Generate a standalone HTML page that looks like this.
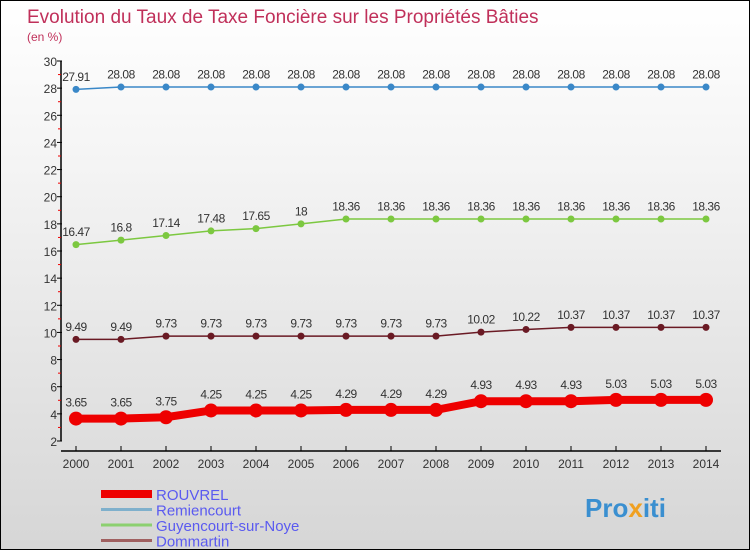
<!DOCTYPE html>
<html><head><meta charset="utf-8"><style>
body{margin:0}
#c{width:748px;height:548px;border:1px solid #000;background:linear-gradient(#fff,#f4f4f4 30%,#d6d6d6);position:relative;overflow:hidden;font-family:"Liberation Sans",sans-serif}
</style></head><body>
<div id="c">
<svg id="s" width="748" height="548" style="position:absolute;left:0;top:0">
<text x="26" y="22" font-size="19" fill="#c0305a">Evolution du Taux de Taxe Foncière sur les Propriétés Bâties</text>
<text x="26" y="40" font-size="12" fill="#c0305a">(en %)</text>
<g id="ax"></g><g id="ser"></g>
<text x="584" y="516" font-size="26" font-weight="bold" fill="#3a8fd0">Pro<tspan fill="#f0a020">x</tspan>iti</text>
</svg>
</div>
<script>
const years=[2000,2001,2002,2003,2004,2005,2006,2007,2008,2009,2010,2011,2012,2013,2014];
const rouvrel=[3.65,3.65,3.75,4.25,4.25,4.25,4.29,4.29,4.29,4.93,4.93,4.93,5.03,5.03,5.03];
const remiencourt=[27.91,28.08,28.08,28.08,28.08,28.08,28.08,28.08,28.08,28.08,28.08,28.08,28.08,28.08,28.08];
const guyencourt=[16.47,16.8,17.14,17.48,17.65,18,18.36,18.36,18.36,18.36,18.36,18.36,18.36,18.36,18.36];
const dommartin=[9.49,9.49,9.73,9.73,9.73,9.73,9.73,9.73,9.73,10.02,10.22,10.37,10.37,10.37,10.37];
const yTicks=[2,4,6,8,10,12,14,16,18,20,22,24,26,28,30];
const NS='http://www.w3.org/2000/svg';
const X=i=>75+i*45, Y=v=>440-(v-2)*380/28;
function mk(t,a,p){const e=document.createElementNS(NS,t);for(const k in a)e.setAttribute(k,a[k]);p.appendChild(e);return e;}
const ax=document.getElementById('ax'),ser=document.getElementById('ser');
const ya=mk('line',{x1:60,y1:60,x2:60,y2:440,stroke:'#000','stroke-width':1.5},ax);


const xa=mk('line',{x1:60,y1:450,x2:720,y2:450,stroke:'#000','stroke-width':1.5},ax);


yTicks.forEach(v=>{
 mk('line',{x1:56,y1:Y(v),x2:61,y2:Y(v),stroke:'#000'},ax);
 if(v<30)mk('line',{x1:57,y1:Y(v+1),x2:60,y2:Y(v+1),stroke:'#e00'},ax);
 const t=mk('text',{x:56,y:Y(v)+5,'text-anchor':'end','font-size':12,fill:'#333'},ax);t.textContent=v;
 
 
});
years.forEach((y,i)=>{
 mk('line',{x1:X(i),y1:445,x2:X(i),y2:450,stroke:'#000'},ax);
 const t=mk('text',{x:X(i),y:467,'text-anchor':'middle','font-size':12,fill:'#333'},ax);t.textContent=y;
 
 
});
function series(data,color,w,r,name){
 const g=mk('g',{},ser);
 
 
 mk('polyline',{points:data.map((v,i)=>X(i)+','+Y(v)).join(' '),fill:'none',stroke:color,'stroke-width':w},g);
 data.forEach((v,i)=>{
  const c=mk('circle',{cx:X(i),cy:Y(v),r:r,fill:color},g);
  
  
  const t=mk('text',{x:X(i),y:Y(v)-(r+5),'text-anchor':'middle','font-size':12,fill:'#333','letter-spacing':'-0.5'},g);t.textContent=v;
  
  
 });
}
series(remiencourt,'#3a88c8',1.5,3.5,'remiencourt');
series(guyencourt,'#7cc840',1.5,3.5,'guyencourt');
series(dommartin,'#6a1a24',1.5,3.5,'dommartin');
series(rouvrel,'#ee0000',8,7,'rouvrel');
const leg=[['ROUVREL','#ee0000',8],['Remiencourt','#7fb0cc',3],['Guyencourt-sur-Noye','#8cd070',3],['Dommartin','#a06060',3]];
leg.forEach((l,i)=>{
 const y=493+i*15.5;
 const g=mk('g',{},ser);
 
 
 mk('line',{x1:100,y1:y,x2:151,y2:y,stroke:l[1],'stroke-width':l[2]},g);
 const t=mk('text',{x:155,y:y+6,'font-size':15,fill:'#5a5af0'},g);t.textContent=l[0];
});
</script>
</body></html>
